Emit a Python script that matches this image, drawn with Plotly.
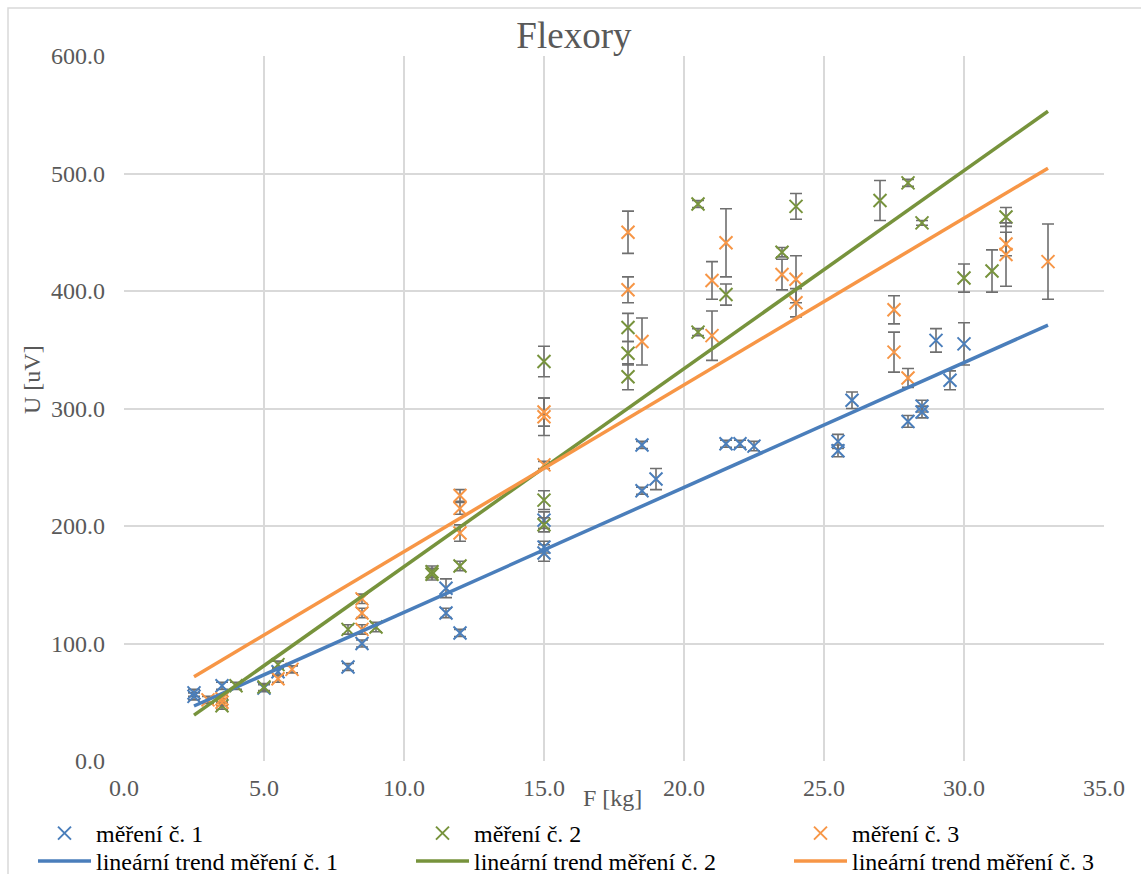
import plotly.graph_objects as go

# --- measurement series: force F [kg], EMG amplitude U [uV], error (+/-) ---
f1 = [2.5, 2.5, 3.5, 5, 5.5, 8, 8.5, 11.5, 11.5, 12, 15, 15, 15, 18.5, 18.5, 19,
      21.5, 22, 22.5, 25.5, 25.5, 26, 28, 28.5, 28.5, 29, 29.5, 30]
u1 = [55, 58, 64, 62, 76, 80, 100, 147, 126, 109, 205, 182, 177, 269, 230, 240,
      270, 270, 268, 272, 264, 307, 289, 297, 302, 358, 324, 355]
e1 = [3, 3, 3, 3, 3, 3, 3, 8, 4, 3, 7, 5, 7, 3, 3, 9,
      3, 3, 4, 6, 5, 7, 5, 5, 5, 10, 8, 18]

f2 = [3.5, 4, 5, 5.5, 8, 9, 11, 11, 12, 15, 15, 15, 18, 18, 18, 20.5, 20.5,
      21.5, 23.5, 24, 27, 28, 28.5, 30, 31, 31.5]
u2 = [47, 64, 63, 82, 112, 114, 161, 159, 166, 340, 222, 201, 369, 347, 327,
      474, 365, 397, 433, 472, 477, 492, 458, 411, 417, 463]
e2 = [3, 3, 3, 3, 4, 4, 5, 5, 4, 13, 8, 6, 12, 10, 11, 3, 3,
      9, 4, 11, 17, 3, 2, 12, 18, 8]

f3 = [3, 3.5, 3.5, 5.5, 6, 8.5, 8.5, 8.5, 12, 12, 12, 15, 15, 15, 18, 18, 18.5,
      21, 21, 21.5, 23.5, 24, 24, 27.5, 27.5, 28, 31.5, 31.5, 33]
u3 = [52, 50, 53, 70, 78, 138, 126, 112, 226, 215, 194, 297, 293, 252, 450, 401,
      357, 409, 362, 441, 414, 410, 390, 384, 348, 326, 440, 431, 425]
e3 = [3, 3, 3, 3, 3, 4, 4, 4, 5, 5, 7, 12, 16, 3, 18, 11, 20,
      16, 21, 29, 13, 20, 12, 12, 17, 8, 10, 27, 32]

# --- linear trends (endpoints over the F range) ---
trend_f = [2.5, 33]
trend1 = [46.8, 371]
trend2 = [39, 553]
trend3 = [71.8, 504.5]

names_pts = ["měření č. 1", "měření č. 2", "měření č. 3"]
names_trend = ["lineární trend měření č. 1", "lineární trend měření č. 2",
               "lineární trend měření č. 3"]

x_ticks = [0, 5, 10, 15, 20, 25, 30, 35]
y_ticks = [0, 100, 200, 300, 400, 500, 600]

colors = ["#4a7ebb", "#77933c", "#f79646"]
FONT = "'Liberation Serif', 'Times New Roman', 'DejaVu Serif', serif"
GREY = "#595959"
ERR = "#6f6f6f"

# legend grid: three columns, markers on the first row, trend lines on the second
legend_cols_px = [33, 411, 789]
legend_rows_px = [811, 839]
pts_legends = ["legend", "legend2", "legend3"]
trend_legends = ["legend4", "legend5", "legend6"]

fig = go.Figure()

for f, u, e, name, c, lg in zip([f1, f2, f3], [u1, u2, u3], [e1, e2, e3],
                                names_pts, colors, pts_legends):
    fig.add_trace(go.Scatter(
        x=f, y=u, mode="markers", name=name, legend=lg,
        marker=dict(symbol="x-thin-open", size=13, color=c, line=dict(width=2, color=c)),
        error_y=dict(type="data", array=e, visible=True, color=ERR, thickness=1.6, width=6),
    ))

for t, name, c, lg in zip([trend1, trend2, trend3], names_trend, colors, trend_legends):
    fig.add_trace(go.Scatter(
        x=trend_f, y=t, mode="lines", name=name, legend=lg,
        line=dict(color=c, width=3.5),
    ))

L, R, T, B = 124, 37, 56, 113
W, H = 1141, 874
pw, ph = W - L - R, H - T - B


def px_x(p):
    return (p - L) / pw


def px_y(p):
    return (H - B - p) / ph


legend_style = dict(orientation="v", xanchor="left", yanchor="top",
                    font=dict(family=FONT, size=24, color="#000000"),
                    itemwidth=53, tracegroupgap=0, bgcolor="rgba(0,0,0,0)")

fig.update_layout(
    width=W, height=H,
    margin=dict(l=L, r=R, t=T, b=B, autoexpand=False),
    paper_bgcolor="white", plot_bgcolor="white",
    font=dict(family=FONT, size=24, color=GREY),
    title=dict(text="Flexory", x=0.503, xref="container", xanchor="center",
               y=1 - 35 / H, yref="container", yanchor="middle",
               font=dict(family=FONT, size=37, color=GREY)),
    showlegend=True,
    xaxis=dict(range=[0, 35], tickvals=x_ticks, tickformat=".1f",
               showgrid=True, gridcolor="#d9d9d9", gridwidth=2,
               zeroline=False, showline=False, ticks="",
               ticklabelstandoff=10,
               tickfont=dict(family=FONT, size=24, color=GREY)),
    yaxis=dict(range=[0, 600], tickvals=y_ticks, tickformat=".1f",
               showgrid=True, gridcolor="#d9d9d9", gridwidth=2,
               zeroline=False, showline=False, ticks="",
               ticklabelstandoff=18,
               tickfont=dict(family=FONT, size=24, color=GREY)),
    annotations=[
        dict(text="F [kg]", x=px_x(612), y=px_y(798), xref="paper", yref="paper",
             showarrow=False, xanchor="center", yanchor="middle",
             font=dict(family=FONT, size=24, color=GREY)),
        dict(text="U [uV]", x=px_x(32), y=px_y(380), xref="paper", yref="paper",
             showarrow=False, xanchor="center", yanchor="middle", textangle=-90,
             font=dict(family=FONT, size=24, color=GREY)),
    ],
    shapes=[
        # chart area border
        dict(type="rect", xref="paper", yref="paper", layer="below",
             x0=px_x(8), x1=px_x(1150), y0=px_y(880), y1=px_y(8),
             line=dict(color="#d9d9d9", width=1.5), fillcolor="rgba(0,0,0,0)"),
    ],
)

for row, ids in zip(legend_rows_px, [pts_legends, trend_legends]):
    for lg, left in zip(ids, legend_cols_px):
        fig.update_layout({lg: dict(legend_style, x=px_x(left), y=px_y(row))})

fig.write_html("out.html")
